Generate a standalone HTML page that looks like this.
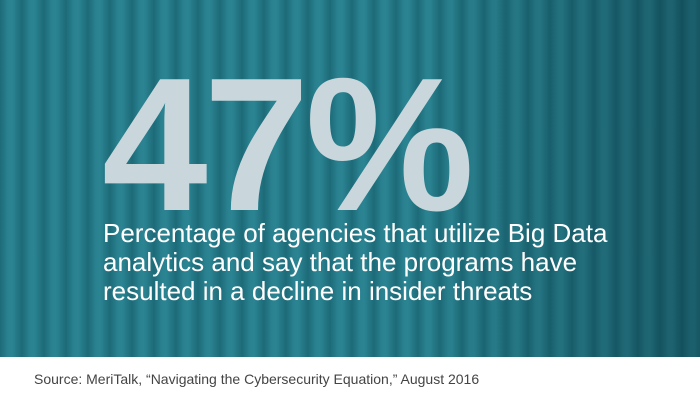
<!DOCTYPE html>
<html><head><meta charset="utf-8"><style>
html,body{margin:0;padding:0;width:700px;height:408px;overflow:hidden;background:#fff;font-family:"Liberation Sans",sans-serif}
#bg{position:absolute;left:0;top:0;width:700px;height:357px;
background:
linear-gradient(90deg,rgba(0,20,30,0) 0%,rgba(0,20,30,0) 60%,rgba(0,25,35,0.35) 100%),
repeating-linear-gradient(90deg,#1d6b79 0px,#2a8290 8px,#2b8492 12px,#1d6b79 22px);}
#big{position:absolute;left:102px;top:50px;font-size:190px;font-weight:bold;color:#c9d7dc;letter-spacing:-4px;line-height:1}
#sub{position:absolute;left:103px;top:219px;font-size:26px;color:#fff;line-height:29px;width:540px}
#src{position:absolute;left:34px;top:371px;font-size:14px;color:#444}
</style></head><body>
<div id="bg"></div>
<div id="big">47%</div>
<div id="sub">Percentage of agencies that utilize Big Data analytics and say that the programs have resulted in a decline in insider threats</div>
<div id="src">Source: MeriTalk, “Navigating the Cybersecurity Equation,” August 2016</div>
</body></html>
